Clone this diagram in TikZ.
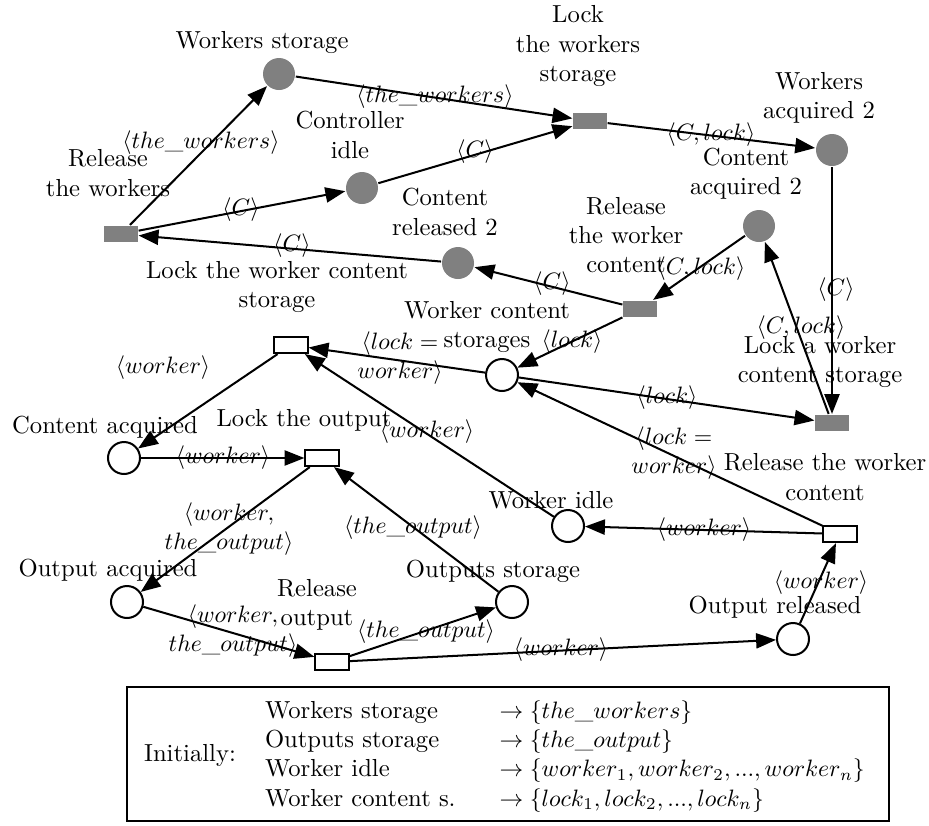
\documentclass[tikz,border=0pt]{standalone}
\usetikzlibrary{arrows.meta}
\definecolor{netgray}{RGB}{128,128,128}
\begin{document}
\begin{tikzpicture}[x=0.422pt,y=-0.422pt,
  line width=0.85pt,
  font=\fontsize{10.4pt}{12.4pt}\selectfont,
  arc/.style={-{Triangle[length=8.4pt,width=6.4pt]}},
  gplace/.style={circle,fill=netgray,inner sep=0pt,minimum size=13.5pt},
  wplace/.style={circle,draw,fill=white,inner sep=0pt,minimum size=13.5pt},
  gtrans/.style={rectangle,fill=netgray,inner sep=0pt,minimum width=14pt,minimum height=6.8pt},
  wtrans/.style={rectangle,draw,fill=white,inner sep=0pt,minimum width=14pt,minimum height=6.8pt},
  nlabel/.style={align=center,inner sep=0pt},
  alabel/.style={align=center,inner sep=0pt}]
\useasboundingbox (0,0) rectangle (929,825);

% grey places (controller part)
\node[gplace] (ws)  at (279,74)  {};
\node[gplace] (ci)  at (362,188) {};
\node[gplace] (cr2) at (458,263) {};
\node[gplace] (wa2) at (832,150) {};
\node[gplace] (ca2) at (759,226) {};

% grey transitions
\node[gtrans] (rw)  at (121,234) {};
\node[gtrans] (lws) at (590,121) {};
\node[gtrans] (rwc) at (640,309) {};
\node[gtrans] (lwc) at (832,423) {};

% white places (worker part)
\node[wplace] (wcs)   at (502,375) {};
\node[wplace] (cacq)  at (124,458) {};
\node[wplace] (widle) at (568,526) {};
\node[wplace] (oacq)  at (127,602) {};
\node[wplace] (ostor) at (512,602) {};
\node[wplace] (orel)  at (793,639) {};

% white transitions
\node[wtrans] (lwcs) at (291,345) {};
\node[wtrans] (lout) at (322,458) {};
\node[wtrans] (rwcw) at (840,534) {};
\node[wtrans] (rout) at (332,662) {};

% node names
\node[nlabel] (ws-n)   at (262,42)  {Workers storage};
\node[nlabel] (ci-n)   at (350,135) {Controller\\idle};
\node[nlabel] (cr2-n)  at (445,212) {Content\\released 2};
\node[nlabel] (wa2-n)  at (819,98)  {Workers\\acquired 2};
\node[nlabel] (ca2-n)  at (746,174) {Content\\acquired 2};
\node[nlabel] (rw-n)   at (108,173) {Release\\the workers};
\node[nlabel] (lws-n)  at (578,46)  {Lock\\the workers\\storage};
\node[nlabel] (rwc-n)  at (626,235) {Release\\the worker\\content};
\node[nlabel] (lwc-n)  at (820,362) {Lock a worker\\content storage};
\node[nlabel] (wcs-n)  at (487,327) {Worker content\\storages};
\node[nlabel] (cacq-n) at (105,427) {Content acquired};
\node[nlabel] (widle-n) at (551,500) {Worker idle};
\node[nlabel] (oacq-n) at (108,570) {Output acquired};
\node[nlabel] (ostor-n) at (493,571) {Outputs storage};
\node[nlabel] (orel-n) at (775,607) {Output released};
\node[nlabel] (lwcs-n) at (277,287) {Lock the worker content\\storage};
\node[nlabel] (lout-n) at (304,420) {Lock the output};
\node[nlabel] (rwcw-n) at (825,477) {Release the worker\\content};
\node[nlabel] (rout-n) at (317,605) {Release\\output};

% arcs
\draw[arc] (rw) -- (ws);
\draw[arc] (rw) -- (ci);
\draw[arc] (cr2) -- (rw);
\draw[arc] (ws) -- (lws);
\draw[arc] (ci) -- (lws);
\draw[arc] (lws) -- (wa2);
\draw[arc] (wa2) -- (lwc);
\draw[arc] (lwc) -- (ca2);
\draw[arc] (ca2) -- (rwc);
\draw[arc] (rwc) -- (cr2);
\draw[arc] (rwc) -- (wcs);
\draw[arc] (wcs) -- (lwc);
\draw[arc] (wcs) -- (lwcs);
\draw[arc] (widle) -- (lwcs);
\draw[arc] (lwcs) -- (cacq);
\draw[arc] (cacq) -- (lout);
\draw[arc] (lout) -- (oacq);
\draw[arc] (ostor) -- (lout);
\draw[arc] (oacq) -- (rout);
\draw[arc] (rout) -- (ostor);
\draw[arc] (rout) -- (orel);
\draw[arc] (orel) -- (rwcw);
\draw[arc] (rwcw) -- (widle);
\draw[arc] (rwcw) -- (wcs);

% arc inscriptions
\node[alabel] (e1)  at (201,143) {$\langle the\_workers\rangle$};
\node[alabel] (e2)  at (241,210) {$\langle C\rangle$};
\node[alabel] (e3)  at (292,246) {$\langle C\rangle$};
\node[alabel] (e4)  at (435,97)  {$\langle the\_workers\rangle$};
\node[alabel] (e5)  at (475,152) {$\langle C\rangle$};
\node[alabel] (e6)  at (711,135) {$\langle C, lock\rangle$};
\node[alabel] (e7)  at (836,290) {$\langle C\rangle$};
\node[alabel] (e8)  at (801,328) {$\langle C, lock\rangle$};
\node[alabel] (e9)  at (701,269) {$\langle C, lock\rangle$};
\node[alabel] (e10) at (552,284) {$\langle C\rangle$};
\node[alabel] (e11) at (572,342) {$\langle lock\rangle$};
\node[alabel] (e12) at (667,398) {$\langle lock\rangle$};
\node[alabel] (e13) at (400,358) {$\langle lock =$\\$worker\rangle$};
\node[alabel] (e14) at (427,432) {$\langle worker\rangle$};
\node[alabel] (e15) at (163,368) {$\langle worker\rangle$};
\node[alabel] (e16) at (223,458) {$\langle worker\rangle$};
\node[alabel] (e17) at (229,529) {$\langle worker,$\\$the\_output\rangle$};
\node[alabel] (e18) at (413,528) {$\langle the\_output\rangle$};
\node[alabel] (e19) at (233,631) {$\langle worker,$\\$the\_output\rangle$};
\node[alabel] (e20) at (426,632) {$\langle the\_output\rangle$};
\node[alabel] (e21) at (561,650) {$\langle worker\rangle$};
\node[alabel] (e22) at (821,583) {$\langle worker\rangle$};
\node[alabel] (e23) at (704,530) {$\langle worker\rangle$};
\node[alabel] (e24) at (674,453) {$\langle lock =$\\$worker\rangle$};

% initial marking
\draw (127,687) rectangle (889,821);
\node[inner sep=0pt] (init) at (190,755) {Initially:};
\node[anchor=base west,inner sep=0pt] (marking) at (264,718)
  {\renewcommand\arraystretch{1.0}%
   \begin{tabular}[t]{@{}p{99pt}@{}l@{}}
   Workers storage   & $\rightarrow \{the\_workers\}$\\
   Outputs storage   & $\rightarrow \{the\_output\}$\\
   Worker idle       & $\rightarrow \{worker_1, worker_2, ..., worker_n\}$\\
   Worker content s. & $\rightarrow \{lock_1, lock_2, ..., lock_n\}$
   \end{tabular}};
\end{tikzpicture}
\end{document}
